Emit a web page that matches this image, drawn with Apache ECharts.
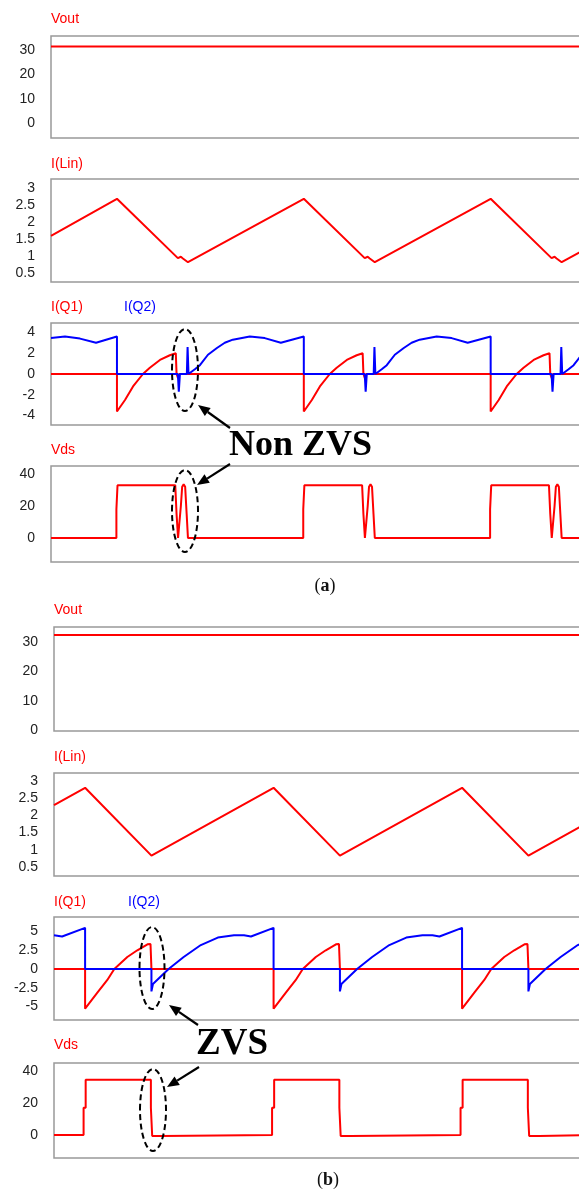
<!DOCTYPE html>
<html>
<head>
<meta charset="utf-8">
<title>Boost waveforms - Non ZVS / ZVS</title>
<style>
  html, body { margin: 0; padding: 0; background: #fff; overflow: hidden; }
  /* wider than the window: the right edge of the scope frames is cut off like in the source */
  #main { width: 600px; height: 1191px; }
</style>
<script src="https://cdn.jsdelivr.net/npm/echarts@6.0.0/dist/echarts.min.js"></script>
</head>
<body>
<div id="main"></div>
<script>
// time in us (one switching period = 10 us)

/* (a) non ZVS case */
const voutA = [[0, 31.4], [28.9, 31.4]]
const iLinA = [[0, 1.59], [3.53, 2.68], [6.79, 0.94], [6.95, 0.98], [7.06, 0.93], [7.33, 0.82],
  [13.53, 2.68], [16.79, 0.94], [16.95, 0.98], [17.06, 0.93], [17.33, 0.82],
  [23.53, 2.68], [26.79, 0.94], [26.95, 0.98], [27.06, 0.93], [27.33, 0.82], [28.9, 1.29]]
const iQ1A = [[0, 0], [3.53, 0], [3.53, -3.6], [3.96, -2.5], [4.39, -1.2], [4.92, 0], [5.29, 0.6], [5.83, 1.35], [6.36, 1.8], [6.68, 2.0], [6.72, 0], [6.8, -0.4], [6.86, 0],
  [13.53, 0], [13.53, -3.6], [13.96, -2.5], [14.39, -1.2], [14.92, 0], [15.29, 0.6], [15.83, 1.35], [16.36, 1.8], [16.68, 2.0], [16.72, 0], [16.8, -0.4], [16.86, 0],
  [23.53, 0], [23.53, -3.6], [23.96, -2.5], [24.39, -1.2], [24.92, 0], [25.29, 0.6], [25.83, 1.35], [26.36, 1.8], [26.68, 2.0], [26.72, 0], [26.8, -0.4], [26.86, 0], [28.9, 0]]
const iQ2A = [[0, 3.45], [0.75, 3.6], [1.55, 3.4], [2.41, 3.0], [3.53, 3.6], [3.53, 0],
  [6.79, 0], [6.84, -1.7], [6.9, 0], [7.27, 0], [7.31, 2.6], [7.36, 0], [7.7, 0.45], [7.97, 0.85], [8.4, 1.85], [8.88, 2.5], [9.3, 3.0], [9.73, 3.3], [10.64, 3.6], [11.44, 3.45], [12.3, 3.0], [13.53, 3.6], [13.53, 0],
  [16.79, 0], [16.84, -1.7], [16.9, 0], [17.27, 0], [17.31, 2.6], [17.36, 0], [17.7, 0.45], [17.97, 0.85], [18.4, 1.85], [18.88, 2.5], [19.3, 3.0], [19.73, 3.3], [20.64, 3.6], [21.44, 3.45], [22.3, 3.0], [23.53, 3.6], [23.53, 0],
  [26.79, 0], [26.84, -1.7], [26.9, 0], [27.27, 0], [27.31, 2.6], [27.36, 0], [27.7, 0.45], [27.97, 0.85], [28.4, 1.85], [28.88, 2.5]]
const vdsA = [[0, 0], [3.5, 0], [3.5, 18], [3.56, 18], [3.56, 33], [6.65, 33], [6.72, 15], [6.8, 0], [6.87, 0], [6.95, 20], [7.02, 32], [7.1, 33.5], [7.18, 32], [7.26, 15], [7.33, 0],
  [13.5, 0], [13.5, 18], [13.56, 18], [13.56, 33], [16.65, 33], [16.72, 15], [16.8, 0], [16.87, 0], [16.95, 20], [17.02, 32], [17.1, 33.5], [17.18, 32], [17.26, 15], [17.33, 0],
  [23.5, 0], [23.5, 18], [23.56, 18], [23.56, 33], [26.65, 33], [26.72, 15], [26.8, 0], [26.87, 0], [26.95, 20], [27.02, 32], [27.1, 33.5], [27.18, 32], [27.26, 15], [27.33, 0], [28.9, 0]]

/* (b) ZVS case */
const voutB = [[0, 32.4], [28.65, 32.4]]
const iLinB = [[0, 2.3], [1.65, 2.8], [5.17, 0.83], [11.65, 2.8], [15.17, 0.83], [21.65, 2.8], [25.17, 0.83], [28.65, 1.89]]
const iQ1B = [[0, 0], [1.65, 0], [1.65, -5.3], [2.29, -3.2], [2.82, -1.5], [3.2, 0], [3.89, 1.6], [4.42, 2.5], [4.96, 3.3], [5.12, 3.35], [5.17, 0],
  [11.65, 0], [11.65, -5.3], [12.29, -3.2], [12.82, -1.5], [13.2, 0], [13.89, 1.6], [14.42, 2.5], [14.96, 3.3], [15.12, 3.35], [15.17, 0],
  [21.65, 0], [21.65, -5.3], [22.29, -3.2], [22.82, -1.5], [23.2, 0], [23.89, 1.6], [24.42, 2.5], [24.96, 3.3], [25.12, 3.35], [25.17, 0], [28.65, 0]]
const iQ2B = [[0, 4.5], [0.43, 4.35], [1.65, 5.5], [1.65, 0],
  [5.17, 0], [5.17, -3.0], [5.25, -2.0], [6.08, 0], [6.88, 1.6], [7.79, 3.2], [8.69, 4.2], [9.55, 4.5], [10.08, 4.5], [10.45, 4.35], [11.65, 5.5], [11.65, 0],
  [15.17, 0], [15.17, -3.0], [15.25, -2.0], [16.08, 0], [16.88, 1.6], [17.79, 3.2], [18.69, 4.2], [19.55, 4.5], [20.08, 4.5], [20.45, 4.35], [21.65, 5.5], [21.65, 0],
  [25.17, 0], [25.17, -3.0], [25.25, -2.0], [26.08, 0], [26.88, 1.6], [27.79, 3.2], [28.65, 4.15]]
const vdsB = [[0, 0], [1.57, 0], [1.57, 17], [1.68, 17], [1.68, 34.5], [5.14, 34.5], [5.14, 17], [5.21, 17], [5.21, -0.6], [5.74, -0.6], [5.74, 0],
  [11.57, 0], [11.57, 17], [11.68, 17], [11.68, 34.5], [15.14, 34.5], [15.14, 17], [15.21, 17], [15.21, -0.6], [15.74, -0.6], [15.74, 0],
  [21.57, 0], [21.57, 17], [21.68, 17], [21.68, 34.5], [25.14, 34.5], [25.14, 17], [25.21, 17], [25.21, -0.6], [25.74, -0.6], [25.74, 0], [28.65, 0]]

// tick labels
const ticksVout = [0, 10, 20, 30]
const ticksLin = [0.5, 1, 1.5, 2, 2.5, 3]
const ticksQA = [-4, -2, 0, 2, 4]
const ticksQB = [-5, -2.5, 0, 2.5, 5]
const ticksVds = [0, 20, 40]

const RED = '#ff0000'
const BLUE = '#0000ff'

// one entry per scope panel
const panels = [
  { left: 51, top: 36, height: 102, tMax: 28.9, yMin: -6, yMax: 35.7, ticks: ticksVout,
    lines: [[voutA, RED]], labels: [['Vout', RED, 0, 19]] },
  { left: 51, top: 179, height: 103, tMax: 28.9, yMin: 0.24, yMax: 3.26, ticks: ticksLin,
    lines: [[iLinA, RED]], labels: [['I(Lin)', RED, 0, 164]] },
  { left: 51, top: 323, height: 102, tMax: 28.9, yMin: -4.9, yMax: 4.9, ticks: ticksQA,
    lines: [[iQ1A, RED], [iQ2A, BLUE]], labels: [['I(Q1)', RED, 0, 307], ['I(Q2)', BLUE, 73, 307]] },
  { left: 51, top: 466, height: 96, tMax: 28.9, yMin: -15, yMax: 45, ticks: ticksVds,
    lines: [[vdsA, RED]], labels: [['Vds', RED, 0, 450]] },
  { left: 54, top: 627, height: 104, tMax: 28.65, yMin: -0.3, yMax: 35.1, ticks: ticksVout,
    lines: [[voutB, RED]], labels: [['Vout', RED, 0, 610]] },
  { left: 54, top: 773, height: 103, tMax: 28.65, yMin: 0.24, yMax: 3.23, ticks: ticksLin,
    lines: [[iLinB, RED]], labels: [['I(Lin)', RED, 0, 757]] },
  { left: 54, top: 917, height: 103, tMax: 28.65, yMin: -6.82, yMax: 6.95, ticks: ticksQB,
    lines: [[iQ1B, RED], [iQ2B, BLUE]], labels: [['I(Q1)', RED, 0, 902], ['I(Q2)', BLUE, 74, 902]] },
  { left: 54, top: 1063, height: 95, tMax: 28.65, yMin: -14.4, yMax: 45, ticks: ticksVds,
    lines: [[vdsB, RED]], labels: [['Vds', RED, 0, 1045]] }
]

/* arrow: line from tail to tip plus a filled head */
function arrow(x1, y1, x2, y2) {
  const a = Math.atan2(y2 - y1, x2 - x1)
  const len = 12, half = 5
  const bx = x2 - len * Math.cos(a), by = y2 - len * Math.sin(a)
  const px = -Math.sin(a) * half, py = Math.cos(a) * half
  return [
    { type: 'line', z: 100, shape: { x1: x1, y1: y1, x2: bx, y2: by }, style: { stroke: '#000', lineWidth: 2.2 } },
    { type: 'polygon', z: 100, shape: { points: [[x2, y2], [bx + px, by + py], [bx - px, by - py]] }, style: { fill: '#000' } }
  ]
}

function ellipse(cx, cy, rx, ry) {
  return { type: 'ellipse', z: 100, shape: { cx: cx, cy: cy, rx: rx, ry: ry },
    style: { fill: 'none', stroke: '#000', lineWidth: 2, lineDash: [6, 3.5] } }
}

function bigText(txt, x, y, size) {
  return { type: 'text', z: 100, x: x, y: y,
    style: { text: txt, font: 'bold ' + size + 'px "Liberation Serif"', fill: '#000', verticalAlign: 'middle' } }
}

function caption(letter, x, y) {
  return { type: 'text', z: 100, x: x, y: y,
    style: { text: '({b|' + letter + '})', font: '18px "Liberation Serif"', fill: '#111',
      align: 'center', verticalAlign: 'middle',
      rich: { b: { fontWeight: 'bold', fontSize: 18, fontFamily: 'Liberation Serif', fill: '#111' } } } }
}

const myChart = echarts.init(document.getElementById('main'), null, { renderer: 'canvas' })

const graphics = []
panels.forEach(p => {
  p.labels.forEach(l => {
    graphics.push({ type: 'text', x: p.left + l[2], y: l[3],
      style: { text: l[0], fill: l[1], font: '14px "Liberation Sans"', verticalAlign: 'middle' } })
  })
})
// annotations
graphics.push(ellipse(185, 370, 13, 41), ellipse(185, 511, 13, 41))
graphics.push(...arrow(230, 428, 198, 405), ...arrow(230, 464, 197, 485))
graphics.push(bigText('Non ZVS', 229, 446, 36))
graphics.push(ellipse(152, 968, 12.5, 41), ellipse(153, 1110, 13, 41))
graphics.push(...arrow(198, 1025, 169, 1005), ...arrow(199, 1067, 167, 1087))
graphics.push(bigText('ZVS', 196, 1044, 37))
graphics.push(caption('a', 325, 586), caption('b', 328, 1180))

const series = []
panels.forEach((p, i) => {
  p.lines.forEach(l => {
    series.push({
      type: 'line', xAxisIndex: i, yAxisIndex: i, data: l[0],
      showSymbol: false, symbol: 'none', animation: false,
      lineStyle: { color: l[1], width: 2 }
    })
  })
})

const option = {
  animation: false,
  backgroundColor: '#fff',
  grid: panels.map(p => ({
    left: p.left, top: p.top, width: 540, height: p.height,
    show: true, borderColor: '#999', borderWidth: 1.5, backgroundColor: '#fff'
  })),
  xAxis: panels.map((p, i) => ({
    type: 'value', gridIndex: i, min: 0, max: p.tMax, show: false
  })),
  yAxis: panels.map((p, i) => ({
    type: 'value', gridIndex: i, min: p.yMin, max: p.yMax,
    axisLine: { show: false }, axisTick: { show: false }, splitLine: { show: false },
    axisLabel: { customValues: p.ticks, margin: 16, color: '#222', fontSize: 14, fontFamily: 'Liberation Sans' }
  })),
  graphic: graphics,
  series: series
}
myChart.setOption(option)
</script>
</body>
</html>
